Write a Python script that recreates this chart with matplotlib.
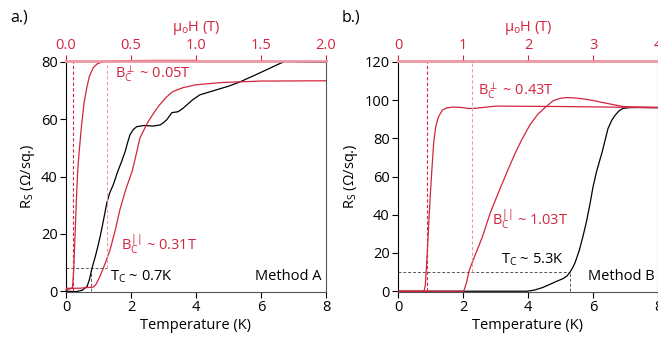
import matplotlib
matplotlib.use('Agg')
import matplotlib.pyplot as plt

plt.rcParams['font.family'] = ['Open Sans', 'DejaVu Sans']
plt.rcParams['mathtext.fontset'] = 'custom'
plt.rcParams['mathtext.rm'] = 'Open Sans'
plt.rcParams['mathtext.it'] = 'Open Sans'
plt.rcParams['font.size'] = 10.5

RED = '#d2253f'
PINK = '#ee9aa6'
GRAY = '#555555'

# ---- panel a data ----
# black: R_s vs temperature (K)
a_T = [0.0, 0.3, 0.5, 0.65, 0.72, 0.8, 0.9, 0.98, 1.06, 1.14, 1.26, 1.35, 1.45, 1.6, 1.72,
       1.82, 1.9, 1.97, 2.08, 2.18, 2.4, 2.68, 2.9, 3.0, 3.1, 3.26, 3.45, 3.6, 3.72, 3.9,
       4.03, 4.12, 4.5, 5.0, 5.35, 5.8, 6.2, 6.5, 6.74, 7.2, 8.0]
a_R = [0.0, -0.2, 0.3, 1.7, 4.0, 8.0, 12.0, 15.6, 19.5, 24.0, 31.0, 34.4, 37.0, 42.0, 45.5,
       48.7, 52.0, 54.6, 56.5, 57.4, 57.8, 57.6, 58.0, 58.8, 59.8, 62.3, 62.6, 63.8, 65.0, 66.8,
       67.8, 68.5, 69.8, 71.5, 73.0, 75.3, 77.4, 79.0, 80.2, 80.0, 79.8]
# red, perpendicular field: R_s vs mu0H (T)
a_Hperp = [0.0, 0.03, 0.05, 0.06, 0.07, 0.08, 0.09, 0.1, 0.12, 0.14, 0.16, 0.18, 0.21, 0.24,
           0.285, 0.4, 0.7, 1.0]
a_Rperp = [0.5, 0.8, 1.2, 8.0, 20.0, 32.0, 42.0, 48.0, 58.0, 66.0, 71.0, 75.0, 78.0, 79.3,
           80.1, 80.4, 80.5, 80.5]
# red, parallel field
a_Hpar = [0.0, 0.1, 0.21, 0.23, 0.26, 0.3, 0.34, 0.38, 0.415, 0.46, 0.51, 0.57, 0.63, 0.68,
          0.72, 0.77, 0.82, 0.9, 1.0, 1.2, 1.5, 2.0]
a_Rpar = [1.0, 1.0, 1.4, 2.3, 5.0, 9.5, 14.6, 21.5, 28.5, 35.5, 42.0, 53.6, 59.0, 62.5,
          65.0, 67.6, 69.6, 71.0, 72.0, 72.8, 73.3, 73.4]

# ---- panel b data ----
b_T = [0.0, 3.0, 3.97, 4.2, 4.46, 4.7, 4.88, 5.08, 5.2, 5.29, 5.38, 5.45, 5.58, 5.69, 5.8,
       5.9, 6.0, 6.1, 6.2, 6.28, 6.38, 6.46, 6.58, 6.68, 6.8, 6.92, 7.1, 7.4, 8.0]
b_R = [0.0, 0.0, 0.0, 0.6, 2.0, 3.8, 5.2, 6.6, 8.0, 9.9, 12.5, 15.0, 21.5, 28.6, 36.5,
       45.0, 54.5, 62.0, 68.0, 72.7, 79.5, 85.0, 89.5, 92.0, 94.3, 95.6, 96.0, 96.1, 96.0]
b_Hperp = [0.0, 0.2, 0.4, 0.42, 0.45, 0.48, 0.5, 0.52, 0.55, 0.58, 0.62, 0.68, 0.75, 0.85,
           0.98, 1.1, 1.2, 1.5, 2.5, 3.5, 4.0]
b_Rperp = [0.0, 0.0, 0.0, 3.0, 20.0, 40.0, 52.0, 63.0, 78.0, 86.0, 91.0, 94.6, 95.9, 96.3,
           96.1, 95.5, 95.7, 96.8, 96.6, 96.2, 96.0]
b_Hpar = [0.0, 0.5, 1.01, 1.05, 1.1, 1.2, 1.3, 1.42, 1.55, 1.69, 1.8, 1.9, 2.03, 2.15, 2.26,
          2.39, 2.5, 2.6, 2.75, 2.91, 3.05, 3.22, 3.46, 3.7, 4.0]
b_Rpar = [0.0, 0.0, 0.0, 4.0, 11.4, 20.0, 28.6, 41.0, 52.0, 63.4, 72.0, 79.0, 87.0, 92.5, 96.0,
          99.7, 100.9, 101.3, 101.0, 100.3, 99.4, 98.2, 96.6, 96.3, 96.2]

fig = plt.figure(figsize=(6.58, 3.39), dpi=100)
ax_a = fig.add_axes([66 / 658, 47 / 339, 260 / 658, 231 / 339])
ax_b = fig.add_axes([398 / 658, 47 / 339, 260 / 658, 231 / 339])


def style(ax, ylim, hmax, hticks, hlabels):
    ax.set_xlim(0, 8)
    ax.set_ylim(*ylim)
    ax.set_xticks([0, 2, 4, 6, 8])
    ax.tick_params(direction='out', length=4, width=0.8, colors='black', labelsize=10.5, pad=2)
    ax.spines['left'].set_color('black')
    ax.spines['bottom'].set_color(GRAY)
    ax.spines['right'].set_color(GRAY)
    ax.spines['top'].set_color(PINK)
    ax.spines['top'].set_linewidth(1.8)
    ax.set_xlabel('Temperature (K)', fontsize=10.5, labelpad=2)
    ax.set_ylabel(r'R$_{\rm S}$ ($\Omega$/sq.)', fontsize=10.5, labelpad=3)
    top = ax.twiny()
    top.set_xlim(0, hmax)
    top.set_xticks(hticks)
    top.set_xticklabels(hlabels)
    top.tick_params(direction='out', length=4, width=0.8, colors=RED, labelsize=10.5, pad=2)
    for s in ['left', 'right', 'bottom']:
        top.spines[s].set_visible(False)
    top.spines['top'].set_color(PINK)
    top.spines['top'].set_linewidth(1.8)
    top.set_xlabel(r'$\mu_{\rm o}$H (T)', color=RED, fontsize=10.5, labelpad=5)
    return top


# panel a
ta = style(ax_a, (-0.3, 80.3), 2.0, [0, 0.5, 1.0, 1.5, 2.0], ['0.0', '0.5', '1.0', '1.5', '2.0'])
ax_a.set_yticks([0, 20, 40, 60, 80])
ax_a.plot(a_T, a_R, color='black', lw=0.9, zorder=3)
ta.set_ylim(-0.3, 80.3)
ta.plot(a_Hperp, a_Rperp, color=RED, lw=0.9, clip_on=False)
ta.plot(a_Hpar, a_Rpar, color=RED, lw=0.9)
ta.plot([0.05, 0.05], [0, 80], color=RED, lw=0.8, ls=(0, (3, 2)))
ta.plot([0.315, 0.315], [8, 80], color=PINK, lw=0.8, ls=(0, (3, 2)))
ax_a.plot([0, 1.26], [8, 8], color=GRAY, lw=0.7, ls=(0, (3, 2)))
ax_a.plot([0.78, 0.78], [0, 8], color=GRAY, lw=0.7, ls=(0, (3, 2)))
ax_a.text(1.5, 76.0, r'B$_{\rm C}^{\perp}$ ~ 0.05T', color=RED, va='center')
ax_a.text(1.7, 16.5, r'B$_{\rm C}^{||}$ ~ 0.31T', color=RED, va='center')
ax_a.text(1.36, 5.0, r'T$_{\rm C}$ ~ 0.7K', color='black', va='center')
ax_a.text(7.85, 5.0, 'Method A', color='black', va='center', ha='right')
fig.text(10 / 658, 1 - 17 / 339, 'a.)', fontsize=11.5, va='center')

# panel b
tb = style(ax_b, (-0.4, 120.4), 4.0, [0, 1, 2, 3, 4], ['0', '1', '2', '3', '4'])
ax_b.set_yticks([0, 20, 40, 60, 80, 100, 120])
ax_b.plot(b_T, b_R, color='black', lw=0.9, zorder=3)
tb.set_ylim(-0.4, 120.4)
tb.plot(b_Hperp, b_Rperp, color=RED, lw=0.9)
tb.plot(b_Hpar, b_Rpar, color=RED, lw=0.9)
tb.plot([0.445, 0.445], [0, 120], color=RED, lw=0.8, ls=(0, (3, 2)))
tb.plot([1.14, 1.14], [10, 120], color=PINK, lw=0.8, ls=(0, (3, 2)))
ax_b.plot([0, 5.3], [10, 10], color=GRAY, lw=0.7, ls=(0, (3, 2)))
ax_b.plot([5.3, 5.3], [0, 10], color=GRAY, lw=0.7, ls=(0, (3, 2)))
ax_b.text(2.45, 105, r'B$_{\rm C}^{\perp}$ ~ 0.43T', color=RED, va='center')
ax_b.text(2.88, 38, r'B$_{\rm C}^{||}$ ~ 1.03T', color=RED, va='center')
ax_b.text(3.18, 16.5, r'T$_{\rm C}$ ~ 5.3K', color='black', va='center')
ax_b.text(7.9, 7.5, 'Method B', color='black', va='center', ha='right')
fig.text(342 / 658, 1 - 17 / 339, 'b.)', fontsize=11.5, va='center')

fig.savefig('out.png', dpi=100)
